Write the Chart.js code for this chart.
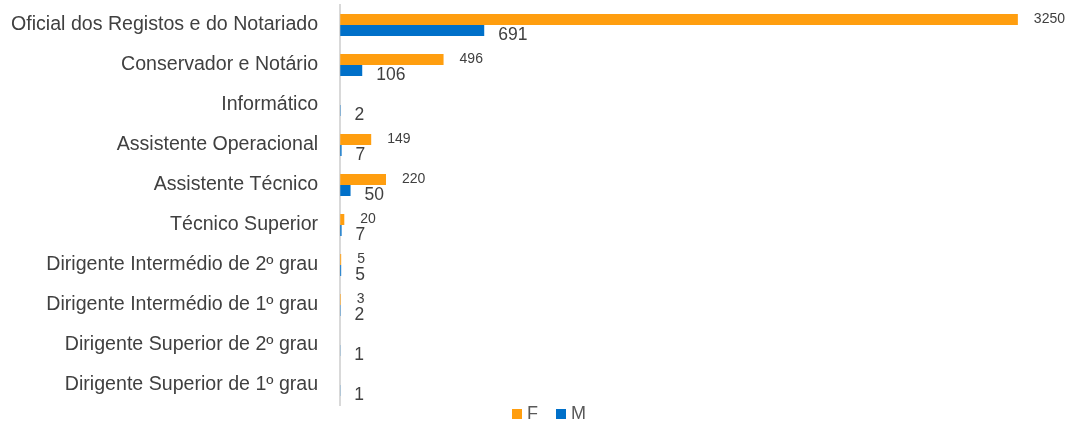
<!DOCTYPE html>
<html lang="pt">
<head>
  <meta charset="UTF-8">
  <title>Efetivos por cargo e sexo</title>
  <script src="https://cdn.jsdelivr.net/npm/chart.js"></script>
  <style>
    html, body { margin: 0; padding: 0; background: #ffffff; overflow: hidden; }
    .chart-container { position: relative; width: 1072px; height: 426px; }
  </style>
</head>
<body>
  <div class="chart-container">
    <canvas id="genderChart"></canvas>
  </div>
  <script>
    // Categories, top to bottom
    const categories = [
      'Oficial dos Registos e do Notariado',
      'Conservador e Notário',
      'Informático',
      'Assistente Operacional',
      'Assistente Técnico',
      'Técnico Superior',
      'Dirigente Intermédio de 2º grau',
      'Dirigente Intermédio de 1º grau',
      'Dirigente Superior de 2º grau',
      'Dirigente Superior de 1º grau'
    ];
    const femaleValues = [3250, 496, null, 149, 220, 20, 5, 3, null, null];
    const maleValues = [691, 106, 2, 7, 50, 7, 5, 2, 1, 1];

    const FONT = '"Liberation Sans", Arial, sans-serif';

    // Value labels: F small and beside the bar, M larger and a little lower
    const valueLabels = {
      id: 'valueLabels',
      afterDatasetsDraw(chart) {
        const ctx = chart.ctx;
        ctx.save();
        ctx.fillStyle = '#404040';
        ctx.textAlign = 'left';
        ctx.textBaseline = 'middle';
        chart.data.datasets.forEach((ds, i) => {
          const meta = chart.getDatasetMeta(i);
          meta.data.forEach((bar, j) => {
            const v = ds.data[j];
            if (v === null || v === undefined) return;
            if (i === 0) {
              ctx.font = '14px ' + FONT;
              ctx.fillText(String(v), bar.x + 16, bar.y);
            } else {
              ctx.font = '17.5px ' + FONT;
              ctx.fillText(String(v), bar.x + 14, bar.y + 5);
            }
          });
        });
        ctx.restore();
      }
    };

    // Bottom legend drawn by hand so the spacing matches
    const bottomLegend = {
      id: 'bottomLegend',
      afterDraw(chart) {
        const ctx = chart.ctx;
        ctx.save();
        ctx.font = '18px ' + FONT;
        ctx.textBaseline = 'middle';
        const items = chart.data.datasets.map(ds => ({ text: ds.label, color: ds.backgroundColor }));
        const box = 10, gap = 5, spacing = 18;
        let total = 0;
        items.forEach((it, k) => {
          total += box + gap + ctx.measureText(it.text).width + (k < items.length - 1 ? spacing : 0);
        });
        let x = chart.width / 2 + 13 - total / 2;
        const y = 414;
        items.forEach(it => {
          ctx.fillStyle = it.color;
          ctx.fillRect(x, y - box / 2, box, box);
          x += box + gap;
          ctx.fillStyle = '#595959';
          ctx.fillText(it.text, x, y);
          x += ctx.measureText(it.text).width + spacing;
        });
        ctx.restore();
      }
    };

    new Chart(document.getElementById('genderChart').getContext('2d'), {
      type: 'bar',
      data: {
        labels: categories,
        datasets: [
          {
            label: 'F',
            data: femaleValues,
            backgroundColor: '#ff9e0f',
            categoryPercentage: 0.55,
            barPercentage: 1.0
          },
          {
            label: 'M',
            data: maleValues,
            backgroundColor: '#0070c9',
            categoryPercentage: 0.55,
            barPercentage: 1.0
          }
        ]
      },
      options: {
        indexAxis: 'y',
        responsive: true,
        maintainAspectRatio: false,
        animation: false,
        layout: { padding: { top: 5, right: 2, left: 11, bottom: 21 } },
        scales: {
          x: {
            min: 0,
            max: 3500,
            display: false
          },
          y: {
            grid: { display: false, drawTicks: false },
            border: { display: true, color: '#d9d9d9', width: 2 },
            ticks: {
              color: '#404040',
              padding: 22,
              font: { family: FONT, size: 19.6 }
            },
            afterFit(scale) {
              scale.paddingTop = 0;
              scale.paddingBottom = 0;
              scale.width -= scale.options.ticks.padding;
            }
          }
        },
        plugins: {
          legend: { display: false },
          tooltip: { enabled: false }
        }
      },
      plugins: [valueLabels, bottomLegend]
    });
  </script>
</body>
</html>
